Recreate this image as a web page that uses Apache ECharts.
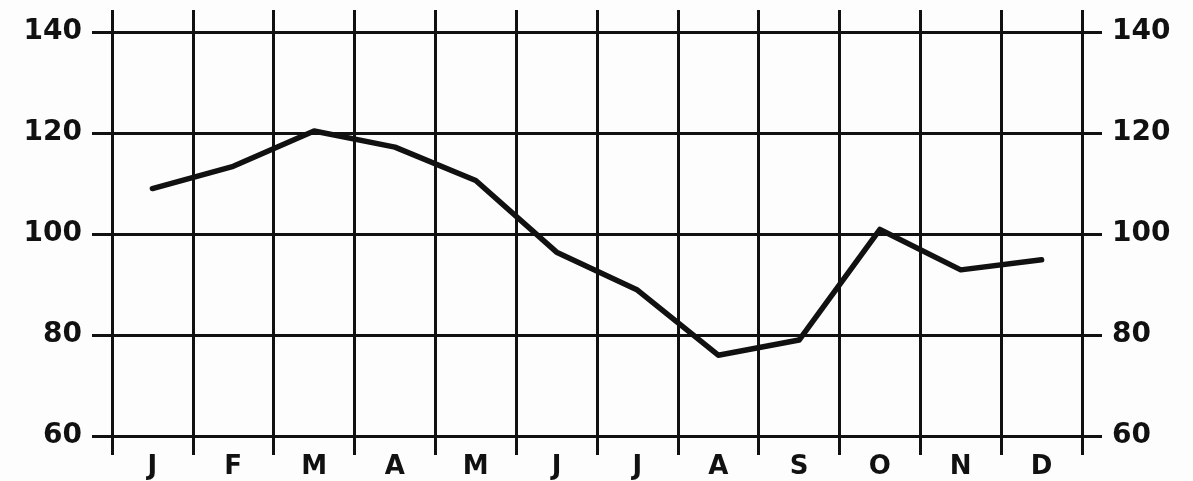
<!DOCTYPE html>
<html>
<head>
<meta charset="utf-8">
<script src="https://cdn.jsdelivr.net/npm/echarts@6/dist/echarts.min.js"></script>
<style>
html,body{margin:0;padding:0;background:#fdfdfd;}
#chart{width:1193px;height:481px;}
</style>
</head>
<body>
<div id="chart"></div>
<script>
var months = ['J','F','M','A','M','J','J','A','S','O','N','D'];
var values = [109.0, 113.4, 120.4, 117.2, 110.6, 96.4, 88.9, 76.0, 79.0, 100.9, 92.9, 94.9];
var yTicks = [60, 80, 100, 120, 140];

var ink = '#111';
var fontFam = '"DejaVu Sans", sans-serif';
var chart = echarts.init(document.getElementById('chart'), null, {renderer:'canvas'});
chart.setOption({
  backgroundColor: '#fdfdfd',
  animation: false,
  grid: {left:112, right:111, top:32, bottom:45},
  xAxis: [
    {
      type:'category', data: months, position:'bottom', boundaryGap:true,
      axisLine:{show:true, lineStyle:{color:ink, width:3}},
      axisTick:{show:true, length:19, lineStyle:{color:ink, width:3}},
      axisLabel:{color:ink, fontFamily:fontFam, fontWeight:'bold', fontSize:26, margin:31, verticalAlign:'middle'},
      splitLine:{show:true, lineStyle:{color:ink, width:3}}
    },
    {
      type:'category', data: months, position:'top', boundaryGap:true,
      axisLine:{show:false},
      axisTick:{show:true, length:22, lineStyle:{color:ink, width:3}},
      axisLabel:{show:false},
      splitLine:{show:false}
    }
  ],
  yAxis: [
    {
      type:'value', position:'left', min:yTicks[0], max:yTicks[yTicks.length-1], interval:20,
      axisLine:{show:true, lineStyle:{color:ink, width:3}},
      axisTick:{show:true, length:20, lineStyle:{color:ink, width:3}},
      axisLabel:{color:ink, fontFamily:fontFam, fontWeight:'bold', fontSize:28, margin:30},
      splitLine:{show:true, lineStyle:{color:ink, width:3}}
    },
    {
      type:'value', position:'right', min:yTicks[0], max:yTicks[yTicks.length-1], interval:20,
      axisLine:{show:true, lineStyle:{color:ink, width:3}},
      axisTick:{show:true, length:20, lineStyle:{color:ink, width:3}},
      axisLabel:{color:ink, fontFamily:fontFam, fontWeight:'bold', fontSize:28, margin:30},
      splitLine:{show:false}
    }
  ],
  series: [{
    type:'line', data: values, xAxisIndex:0, yAxisIndex:0,
    showSymbol:false, symbol:'none',
    lineStyle:{color:ink, width:5.5, cap:'round', join:'round'},
    z:5
  }]
});
</script>
</body>
</html>
